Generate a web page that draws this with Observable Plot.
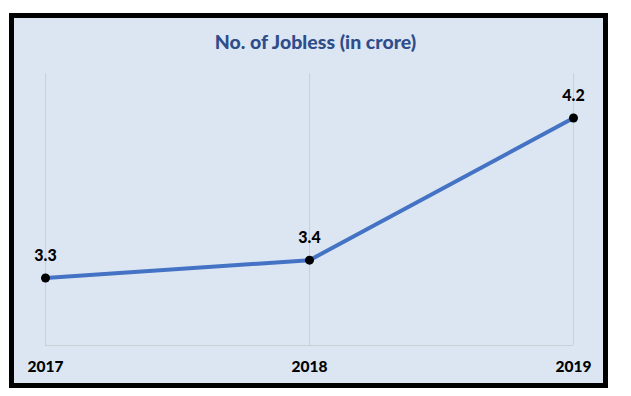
<!DOCTYPE html>
<html>
<head>
<meta charset="utf-8">
<script src="https://cdn.jsdelivr.net/npm/d3@7"></script>
<script src="https://cdn.jsdelivr.net/npm/@observablehq/plot@0.6"></script>
<style>
  html, body { margin: 0; padding: 0; background: #ffffff; }
  body { width: 631px; height: 396px; position: relative; overflow: hidden; font-family: Lato, "Open Sans", sans-serif; }
  #box { position: absolute; left: 9px; top: 13px; width: 599px; height: 375px; box-sizing: border-box;
         border: 5px solid #000; background: #dce6f2; }
  #title { position: absolute; left: 0; top: 30px; width: 631px; text-align: center; font-size: 19.5px;
           font-weight: 900; color: #2f4d8a; font-family: Lato, "Open Sans", sans-serif; line-height: 24px; }
  #chart { position: absolute; left: 0; top: 0; }
</style>
</head>
<body>
<div id="box"></div>
<div id="title">No. of Jobless (in crore)</div>
<div id="chart"></div>
<script>
const years = ["2017", "2018", "2019"];
const jobless = [3.3, 3.4, 4.2];
const labels = ["3.3", "3.4", "4.2"];

const data = years.map((y, i) => ({year: y, value: jobless[i], label: labels[i]}));
const yMin = 2.92, yMax = 4.45;

const plot = Plot.plot({
  width: 631,
  height: 396,
  marginLeft: 45,
  marginRight: 58,
  marginTop: 73,
  marginBottom: 51,
  style: {background: "transparent", fontFamily: "Lato, 'Open Sans', sans-serif", overflow: "visible"},
  x: {type: "point", domain: years, padding: 0},
  y: {domain: [yMin, yMax], axis: null},
  marks: [
    Plot.gridX(years, {stroke: "#c9d0d8", strokeOpacity: 1, strokeWidth: 1}),
    Plot.ruleY([yMin], {stroke: "#c9d0d8", strokeWidth: 1}),
    Plot.axisX({tickSize: 0, tickPadding: 15, fontSize: 15.5, fontWeight: 900, fill: "#000", label: null}),
    Plot.line(data, {x: "year", y: "value", stroke: "#4472c4", strokeWidth: 4, strokeLinecap: "round", strokeLinejoin: "round"}),
    Plot.dot(data, {x: "year", y: "value", r: 4.5, fill: "#000", stroke: "none"}),
    Plot.text(data, {x: "year", y: "value", text: "label", dy: -22, fontSize: 16, fontWeight: 900, fill: "#000"})
  ]
});
document.getElementById("chart").appendChild(plot);
</script>
</body>
</html>
